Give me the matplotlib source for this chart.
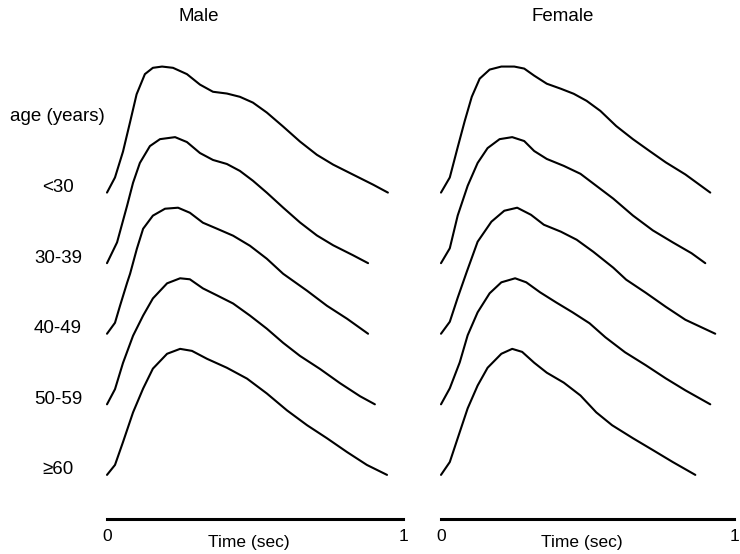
import matplotlib
matplotlib.use("Agg")
import matplotlib.pyplot as plt

plt.rcParams["font.family"] = ["Liberation Sans", "DejaVu Sans"]

AGE_GROUPS = ["<30", "30-39", "40-49", "50-59", "\u226560"]
AGE_HEADER = "age (years)"
PANELS = ["Male", "Female"]

# averaged pulse waveforms, time in s, amplitude normalised to peak = 1
male_lt30_t = [0, 0.027, 0.054, 0.078, 0.10, 0.128, 0.155, 0.186, 0.223, 0.27, 0.314, 0.358,
               0.405, 0.449, 0.493, 0.54, 0.595, 0.652, 0.709, 0.764, 0.831, 0.899, 0.949]
male_lt30_a = [0, 0.12, 0.325, 0.56, 0.78, 0.94, 0.99, 1.0, 0.99, 0.94, 0.857, 0.80,
               0.786, 0.76, 0.714, 0.635, 0.524, 0.405, 0.30, 0.222, 0.143, 0.063, 0]

male_30_t = [0, 0.034, 0.068, 0.088, 0.111, 0.145, 0.179, 0.23, 0.27, 0.314, 0.358,
             0.405, 0.449, 0.493, 0.54, 0.595, 0.652, 0.709, 0.764, 0.831, 0.882]
male_30_a = [0, 0.165, 0.457, 0.638, 0.795, 0.929, 0.984, 1.0, 0.961, 0.874, 0.819,
             0.787, 0.732, 0.654, 0.559, 0.441, 0.323, 0.22, 0.142, 0.063, 0]

male_40_t = [0, 0.027, 0.044, 0.068, 0.078, 0.101, 0.122, 0.155, 0.196, 0.24, 0.28,
             0.324, 0.372, 0.426, 0.483, 0.54, 0.595, 0.676, 0.743, 0.811, 0.882]
male_40_a = [0, 0.087, 0.222, 0.405, 0.476, 0.675, 0.833, 0.937, 0.992, 1.0, 0.96,
             0.881, 0.833, 0.778, 0.698, 0.595, 0.476, 0.341, 0.222, 0.119, 0]

male_50_t = [0, 0.027, 0.054, 0.088, 0.122, 0.155, 0.203, 0.247, 0.28, 0.324, 0.372,
             0.426, 0.483, 0.54, 0.595, 0.652, 0.72, 0.787, 0.855, 0.905]
male_50_a = [0, 0.12, 0.328, 0.544, 0.704, 0.84, 0.96, 1.0, 0.992, 0.92, 0.864,
             0.80, 0.704, 0.60, 0.488, 0.384, 0.28, 0.168, 0.064, 0]

male_60_t = [0, 0.027, 0.054, 0.088, 0.122, 0.155, 0.203, 0.247, 0.287, 0.338, 0.405,
             0.473, 0.54, 0.608, 0.676, 0.743, 0.811, 0.878, 0.946]
male_60_a = [0, 0.079, 0.26, 0.496, 0.685, 0.843, 0.961, 1.0, 0.984, 0.921, 0.85,
             0.764, 0.646, 0.512, 0.394, 0.291, 0.181, 0.079, 0]

female_lt30_t = [0, 0.03, 0.057, 0.081, 0.105, 0.132, 0.166, 0.206, 0.25, 0.284, 0.318,
                 0.361, 0.409, 0.453, 0.497, 0.544, 0.598, 0.655, 0.713, 0.767, 0.834, 0.919]
female_lt30_a = [0, 0.12, 0.36, 0.568, 0.76, 0.904, 0.976, 1.0, 1.0, 0.984, 0.928,
                 0.864, 0.824, 0.784, 0.728, 0.648, 0.528, 0.424, 0.328, 0.24, 0.144, 0]

female_30_t = [0, 0.03, 0.057, 0.091, 0.125, 0.159, 0.20, 0.243, 0.284, 0.318, 0.361,
               0.419, 0.476, 0.53, 0.588, 0.655, 0.723, 0.791, 0.855, 0.902]
female_30_a = [0, 0.118, 0.378, 0.614, 0.795, 0.913, 0.984, 1.0, 0.969, 0.89, 0.827,
               0.772, 0.709, 0.614, 0.512, 0.378, 0.26, 0.165, 0.079, 0]

female_40_t = [0, 0.03, 0.057, 0.088, 0.125, 0.172, 0.216, 0.26, 0.307, 0.351, 0.409,
               0.463, 0.52, 0.588, 0.632, 0.699, 0.767, 0.834, 0.936]
female_40_a = [0, 0.095, 0.286, 0.492, 0.73, 0.889, 0.976, 1.0, 0.944, 0.865, 0.81,
               0.746, 0.65, 0.524, 0.429, 0.325, 0.214, 0.111, 0]

female_50_t = [0, 0.03, 0.064, 0.091, 0.125, 0.166, 0.206, 0.253, 0.291, 0.338, 0.392,
               0.449, 0.507, 0.561, 0.628, 0.699, 0.767, 0.834, 0.919]
female_50_a = [0, 0.127, 0.333, 0.548, 0.73, 0.881, 0.968, 1.0, 0.968, 0.889, 0.81,
               0.73, 0.643, 0.532, 0.413, 0.31, 0.206, 0.111, 0]

female_60_t = [0, 0.03, 0.057, 0.091, 0.125, 0.159, 0.206, 0.243, 0.277, 0.318, 0.361,
               0.419, 0.476, 0.53, 0.584, 0.655, 0.723, 0.791, 0.868]
female_60_a = [0, 0.102, 0.291, 0.528, 0.709, 0.85, 0.961, 1.0, 0.976, 0.89, 0.811,
               0.732, 0.63, 0.496, 0.394, 0.291, 0.197, 0.102, 0]

male_waves = [(male_lt30_t, male_lt30_a), (male_30_t, male_30_a), (male_40_t, male_40_a),
              (male_50_t, male_50_a), (male_60_t, male_60_a)]
female_waves = [(female_lt30_t, female_lt30_a), (female_30_t, female_30_a),
                (female_40_t, female_40_a), (female_50_t, female_50_a),
                (female_60_t, female_60_a)]

STEP = 0.56          # vertical offset between stacked waveforms
FS = 13.5
LW = 1.5

fig = plt.figure(figsize=(7.4, 5.54), dpi=100)
W, H = 740.0, 554.0

ax_m = fig.add_axes([107 / W, 1 - 519 / H, 296 / W, 460 / H])
ax_f = fig.add_axes([441 / W, 1 - 519 / H, 293 / W, 460 / H])

n = len(AGE_GROUPS)
for ax, waves in [(ax_m, male_waves), (ax_f, female_waves)]:
    for k, (t, a) in enumerate(waves):
        base = (n - 1 - k) * STEP
        ax.plot(t, [v + base for v in a], color="black", lw=LW,
                solid_joinstyle="round", solid_capstyle="round", clip_on=False)
    ax.set_xlim(0, 1)
    ax.set_ylim(-0.35, 3.3)
    ax.patch.set_visible(False)
    for s in ("left", "right", "top"):
        ax.spines[s].set_visible(False)
    ax.spines["bottom"].set_linewidth(2.2)
    ax.set_yticks([])
    ax.set_xticks([0, 1])
    ax.set_xticklabels(["0", "1"])
    ax.tick_params(axis="x", length=0, pad=7, labelsize=FS - 1)
    ax.text(0.48, -0.05, "Time (sec)", transform=ax.transAxes,
            ha="center", va="center", fontsize=FS - 1)

# age group labels to the left of the male panel
label_x = -0.166
for k, lab in enumerate(AGE_GROUPS):
    ax_m.text(label_x, (n - 1 - k) * STEP + 0.04, lab, ha="center", va="center", fontsize=FS)
ax_m.text(label_x, n * STEP + 0.04, AGE_HEADER, ha="center", va="center", fontsize=FS)

fig.text(199 / W, 1 - 16.5 / H, PANELS[0], ha="center", va="center", fontsize=FS)
fig.text(563 / W, 1 - 16.5 / H, PANELS[1], ha="center", va="center", fontsize=FS)

fig.savefig("out.png", dpi=100, facecolor="white")
